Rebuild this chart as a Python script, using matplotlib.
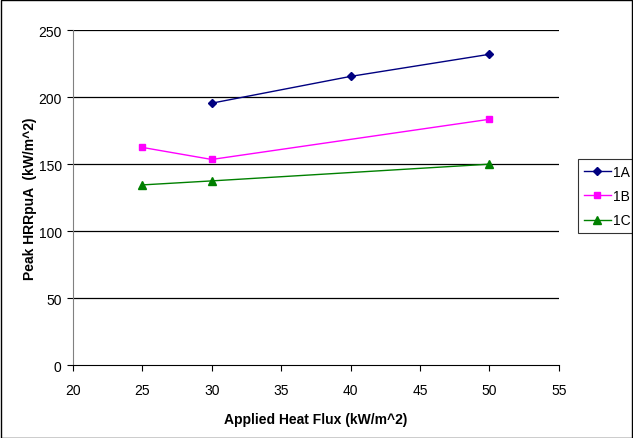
import numpy as np
import matplotlib
matplotlib.use("Agg")
import matplotlib.pyplot as plt
from matplotlib.patches import Rectangle

plt.rcParams['font.family'] = ['Liberation Sans', 'DejaVu Sans']

# data
flux_1a = [30, 40, 50]
hrr_1a = [195.5, 215.5, 232]
flux_1b = [25, 30, 50]
hrr_1b = [162.5, 153.5, 183.5]
flux_1c = [25, 30, 50]
hrr_1c = [134.5, 137.5, 150]

x_ticks = [20, 25, 30, 35, 40, 45, 50, 55]
y_ticks = [0, 50, 100, 150, 200, 250]

fig = plt.figure(figsize=(6.33, 4.39), dpi=100)
ax = fig.add_axes([0.115, 0.166, 0.768, 0.763])

for y in y_ticks[1:]:
	ax.axhline(y, color='black', lw=0.9, zorder=1)

ax.plot(flux_1a, hrr_1a, color='#000080', marker='D', ms=4.5, lw=1.0, label='1A', zorder=3)
ax.plot(flux_1b, hrr_1b, color='#FF00FF', marker='s', ms=5, lw=1.0, label='1B', zorder=3)
ax.plot(flux_1c, hrr_1c, color='#008000', marker='^', ms=5.5, lw=1.0, label='1C', zorder=3)

ax.set_xlim(20, 55)
ax.set_ylim(0, 250)
ax.set_xticks(x_ticks)
ax.set_yticks(y_ticks)
ax.tick_params(labelsize=10, length=4, width=0.8, direction='out', pad=4)
ax.tick_params(axis='x', pad=9)

for s in ['top', 'right']:
	ax.spines[s].set_visible(False)
ax.spines['left'].set_color('#808080')
ax.spines['bottom'].set_color('black')

ax.set_xlabel('Applied Heat Flux (kW/m^2)', fontsize=10, fontweight='bold', labelpad=11)
ax.set_ylabel('Peak HRRpuA  (kW/m^2)', fontsize=10, fontweight='bold', labelpad=1)

leg = ax.legend(loc='lower left', fontsize=10,
	frameon=True, fancybox=False, edgecolor='black', handlelength=2.0,
	borderpad=0.4, labelspacing=0.75, handletextpad=0.15, borderaxespad=0,
	bbox_to_anchor=(578 / 633, 1 - 234 / 439), bbox_transform=fig.transFigure)
leg.get_frame().set_linewidth(0.8)

fig.patches.append(Rectangle((0.001, 0.001), 0.998, 0.997, transform=fig.transFigure,
	fill=False, edgecolor='black', lw=1))

fig.savefig('out.png', dpi=100)
